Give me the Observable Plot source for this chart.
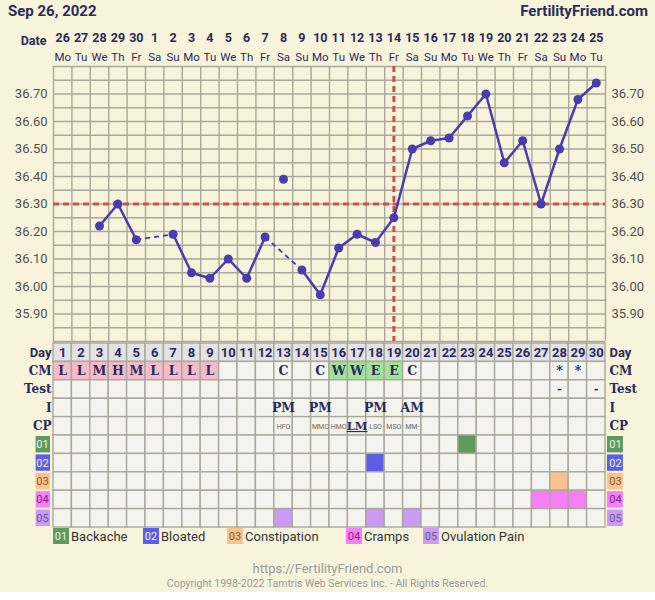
<!DOCTYPE html>
<html><head><meta charset="utf-8">
<script src="https://cdn.jsdelivr.net/npm/d3@7"></script>
<script src="https://cdn.jsdelivr.net/npm/@observablehq/plot@0.6"></script>
<style>
body{margin:0;background:#fff;}
#root{position:relative;width:655px;height:592px;background:#f8f4dc;font-family:Roboto,sans-serif;overflow:hidden}
.abs{position:absolute}
.lg{position:absolute;top:528px;display:flex;align-items:center;font:13px Roboto;color:#333;white-space:nowrap}
.lg .bx{width:16px;height:16px;display:flex;align-items:center;justify-content:center;font:11px Roboto;margin-right:2px}
</style></head><body>
<div id="root">
  <div class="abs" style="left:8px;top:2px;font:bold 15px Roboto;color:#2b2a5a">Sep 26, 2022</div>
  <div class="abs" style="right:7px;top:2px;font:bold 15px Roboto;color:#2b2a5a">FertilityFriend.com</div>
  <div id="chart" class="abs" style="left:0;top:0"></div>
  <div id="table" class="abs" style="left:0;top:342px"></div>
  <div id="legend"></div>
  <div class="abs" style="left:0;width:655px;top:561px;text-align:center;font:13px Roboto;color:#9a9a9a">https://FertilityFriend.com</div>
  <div class="abs" style="left:0;width:655px;top:577px;text-align:center;font:10.5px Roboto;color:#9a9a9a">Copyright 1998-2022 Tamtris Web Services Inc. - All Rights Reserved.</div>
</div>
<script>
// ---------- data ----------
const days = d3.range(1, 31);
const dates = [26,27,28,29,30,1,2,3,4,5,6,7,8,9,10,11,12,13,14,15,16,17,18,19,20,21,22,23,24,25];
const weekdays = ["Mo","Tu","We","Th","Fr","Sa","Su","Mo","Tu","We","Th","Fr","Sa","Su","Mo","Tu","We","Th","Fr","Sa","Su","Mo","Tu","We","Th","Fr","Sa","Su","Mo","Tu"];
const temps = [null,null,36.22,36.30,36.17,null,36.19,36.05,36.03,36.10,36.03,36.18,36.39,36.06,35.97,36.14,36.19,36.16,36.25,36.50,36.53,36.54,36.62,36.70,36.45,36.53,36.30,36.50,36.68,36.74];
const excludedDays = [13];
const coverline = 36.30;
const ovulationDay = 19;
const yTicks = [35.90,36.00,36.10,36.20,36.30,36.40,36.50,36.60,36.70];
const yDomain = [35.80, 36.80];
const cm = ["L","L","M","H","M","L","L","L","L","","","","C","","C","W","W","E","E","C","","","","","","","","*","*",""];
const test = ["","","","","","","","","","","","","","","","","","","","","","","","","","","","-","","-"];
const intercourse = ["","","","","","","","","","","","","PM","","PM","","","PM","","AM","","","","","","","","","",""];
const cp = ["","","","","","","","","","","","","HFO","","MMC","HMO","LM","LSO","MSO","MM-","","","","","","","","","",""];
const rowLabels = ["Day","CM","Test","I","CP"];
const symptomCodes = ["01","02","03","04","05"];
const symptomNames = ["Backache","Bloated","Constipation","Cramps","Ovulation Pain"];
const symptomDays = [[23],[18],[28],[27,28,29],[13,18,20]];

// ---------- styles ----------
const navy = "#2b2a5a";
const gridColor = "#a9a89a";
const lineColor = "#4a3cae";
const redColor = "#c9524a";
const cellBg = "#f4f4ee";
const dayBg = "#e2e2e7";
const menstrualBg = "#f2bccb";
const fertileBg = "#a4e29a";
const symptomColors = ["#5e9a5e","#5d5ee8","#f9c28f","#f77ff5","#c99bf2"];
const symptomText = ["#f0f0f0","#f0f0f0","#8a5a2a","#7a2a8a","#6a5a8a"];
const serif = "DejaVu Serif";

// ---------- temperature chart ----------
const pts = days.map((d,i)=>({day:d, t:temps[i]})).filter(p=>p.t!=null);
const connected = pts.filter(p=>!excludedDays.includes(p.day));
const segs = d3.pairs(connected).map(([a,b])=>({x1:a.day,y1:a.t,x2:b.day,y2:b.t,gap:b.day-a.day>1}));
const hGrid = d3.range(0, 21).map(i => +(yDomain[0] + i*0.05).toFixed(2));
const vGrid = d3.range(0, 31).map(i => i + 0.5);

const chart = Plot.plot({
  width: 655, height: 343,
  marginLeft: 53, marginRight: 50, marginTop: 66, marginBottom: 2,
  x: {domain: [0.5, 30.5], axis: null},
  y: {domain: yDomain, axis: null},
  style: {background: "transparent", fontFamily: "Roboto"},
  marks: [
    Plot.ruleX(vGrid, {stroke: gridColor, strokeWidth: 1.4}),
    Plot.ruleY(hGrid, {stroke: gridColor, strokeWidth: 1.4}),
    Plot.ruleY([coverline], {stroke: redColor, strokeWidth: 3, strokeDasharray: "6,4"}),
    Plot.ruleX([ovulationDay], {stroke: redColor, strokeWidth: 3, strokeDasharray: "6,4"}),
    Plot.link(segs.filter(s=>!s.gap), {x1:"x1",y1:"y1",x2:"x2",y2:"y2", stroke: lineColor, strokeWidth: 2.5}),
    Plot.link(segs.filter(s=>s.gap), {x1:"x1",y1:"y1",x2:"x2",y2:"y2", stroke: lineColor, strokeWidth: 1.8, strokeDasharray: "5,4"}),
    Plot.dot(pts, {x:"day", y:"t", r: 4.5, fill: lineColor}),
    Plot.text(yTicks, {x: 0.5, y: d=>d, dx: -6, textAnchor: "end", text: d=>d.toFixed(2), fontSize: 13, fill: "#505050"}),
    Plot.text(yTicks, {x: 30.5, y: d=>d, dx: 6, textAnchor: "start", text: d=>d.toFixed(2), fontSize: 13, fill: "#505050"}),
    Plot.text(days, {x: d=>d, frameAnchor: "top", dy: -33, text: d=>dates[d-1], fontSize: 12.5, fontWeight: "bold", fill: navy}),
    Plot.text(days, {x: d=>d, frameAnchor: "top", dy: -14, text: d=>weekdays[d-1], fontSize: 11.5, fill: navy}),
    Plot.text(["Date"], {x: 0.5, frameAnchor: "top", dx: -7, dy: -30, textAnchor: "end", text: d=>d, fontSize: 12.5, fontWeight: "bold", fill: navy})
  ]
});
document.getElementById("chart").append(chart);

// ---------- table ----------
const cells = [];
days.forEach((d,i)=>{
  for (let r=0; r<10; r++) {
    let fill = cellBg;
    if (r===0) fill = dayBg;
    else if (r===1) { if (cm[i] && "LMH".includes(cm[i])) fill = menstrualBg; else if (cm[i] && "WE".includes(cm[i])) fill = fertileBg; }
    else if (r>=5 && symptomDays[r-5].includes(d)) fill = symptomColors[r-5];
    cells.push({day:d, row:r, fill});
  }
});
const rowText = (arr, row) => days.map((d,i)=>({day:d, row, s:arr[i]})).filter(o=>o.s);
const codeRows = symptomCodes.map((c,k)=>({code:c, row:5+k, color:symptomColors[k], tc:symptomText[k]}));
const labelRows = rowLabels.map((l,k)=>({label:l, row:k}));
const sansLabels = labelRows.filter(d=>d.row===0);
const serifLabels = labelRows.filter(d=>d.row>0);

const table = Plot.plot({
  width: 655, height: 186,
  marginLeft: 53, marginRight: 50, marginTop: 1, marginBottom: 1,
  x: {domain: [0.5, 30.5], axis: null},
  y: {domain: [10, 0], axis: null},
  style: {background: "transparent", fontFamily: "Roboto"},
  marks: [
    Plot.rect(cells, {x1: d=>d.day-0.5, x2: d=>d.day+0.5, y1: "row", y2: d=>d.row+1, fill: "fill", stroke: gridColor, strokeWidth: 1.4}),
    Plot.text(days, {x: d=>d, y: 0.5, text: d=>d, fontSize: 13, fontWeight: "bold", fill: navy}),
    Plot.text(rowText(cm,1), {x:"day", y: d=>d.row+0.5, text:"s", fontFamily: serif, fontSize: 12.5, fontWeight: "bold", fill: navy}),
    Plot.text(rowText(test,2), {x:"day", y: d=>d.row+0.5, text:"s", fontSize: 13, fontWeight: "bold", fill: navy}),
    Plot.text(rowText(intercourse,3), {x:"day", y: d=>d.row+0.5, text:"s", fontFamily: serif, fontSize: 12.5, fontWeight: "bold", fill: navy}),
    Plot.text(rowText(cp,4).filter(o=>o.s!=="LM"), {x:"day", y: d=>d.row+0.5, text:"s", fontSize: 7, fill: "#666"}),
    Plot.text(rowText(cp,4).filter(o=>o.s==="LM"), {x:"day", y: d=>d.row+0.5, text:"s", fontFamily: serif, fontSize: 11.5, fontWeight: "bold", fill: navy}),
    Plot.text(sansLabels, {x: 0.5, y: d=>d.row+0.5, dx: -2, textAnchor: "end", text: "label", fontSize: 13, fontWeight: "bold", fill: navy}),
    Plot.text(serifLabels, {x: 0.5, y: d=>d.row+0.5, dx: -2, textAnchor: "end", text: "label", fontFamily: serif, fontSize: 12, fontWeight: "bold", fill: navy}),
    Plot.text(sansLabels, {x: 30.5, y: d=>d.row+0.5, dx: 4, textAnchor: "start", text: "label", fontSize: 13, fontWeight: "bold", fill: navy}),
    Plot.text(serifLabels, {x: 30.5, y: d=>d.row+0.5, dx: 4, textAnchor: "start", text: "label", fontFamily: serif, fontSize: 12, fontWeight: "bold", fill: navy}),
    Plot.rect(codeRows, {x1: -0.5, x2: 0.5, y1: "row", y2: d=>d.row+1, fill: "color", insetRight: 3, insetLeft: 1, insetTop: 1, insetBottom: 1}),
    Plot.rect(codeRows, {x1: 30.5, x2: 31.5, y1: "row", y2: d=>d.row+1, fill: "color", insetLeft: 2, insetRight: 0.5, insetTop: 1, insetBottom: 1}),
    Plot.text(codeRows, {x: 0.5, y: d=>d.row+0.5, dx: -11, text: "code", fill: "tc", fontSize: 11}),
    Plot.text(codeRows, {x: 30.5, y: d=>d.row+0.5, dx: 10, text: "code", fill: "tc", fontSize: 11})
  ]
});
d3.select(table).selectAll("text").each(function(){
  if (this.textContent === "LM") d3.select(this).attr("text-decoration", "underline");
});
document.getElementById("table").append(table);

// ---------- legend ----------
const legendLeft = [53, 143, 227, 346, 423];
const legend = document.getElementById("legend");
symptomCodes.forEach((c,k)=>{
  const item = document.createElement("div");
  item.className = "lg";
  item.style.left = legendLeft[k] + "px";
  item.innerHTML = `<span class="bx" style="background:${symptomColors[k]};color:${symptomText[k]}">${c}</span>${symptomNames[k]}`;
  legend.append(item);
});
</script>
</body></html>
